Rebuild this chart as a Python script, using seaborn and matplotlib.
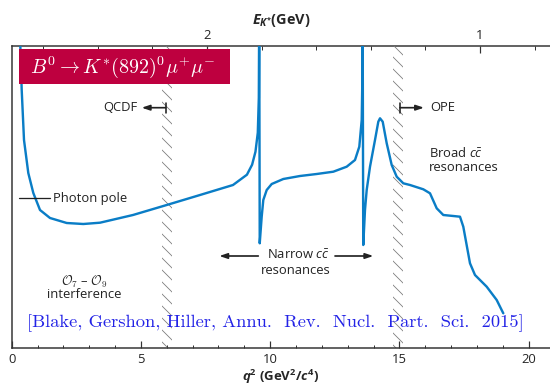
import numpy as np
import pandas as pd
import matplotlib
matplotlib.use("Agg")
import matplotlib.pyplot as plt
from matplotlib.patches import Rectangle
from matplotlib.ticker import FixedLocator, MultipleLocator
import seaborn as sns

# ---------------- data ----------------
q2 = [0.30, 0.387, 0.476, 0.642, 0.836, 1.095, 1.482, 2.128, 2.770, 3.416,
      4.692, 5.996, 7.284, 8.561, 9.10, 9.30, 9.43, 9.52, 9.56, 9.575,
      9.595, 9.671, 9.733, 9.865, 10.058, 10.507, 11.153, 11.799, 12.441, 12.959,
      13.280, 13.447, 13.540, 13.56, 13.575, 13.600, 13.667, 13.733, 13.861, 14.054,
      14.182, 14.248, 14.352, 14.507, 14.700, 14.894, 15.149, 15.408, 15.923, 16.182,
      16.441, 16.696, 17.083, 17.342, 17.470, 17.729, 17.922, 18.375, 18.762, 19.017]
rate = [330, 257.7, 207.7, 174.7, 154.7, 137.7, 129.7, 124.7, 123.7, 125.0,
        132.7, 142.7, 152.7, 162.7, 173, 183, 196, 215, 250, 340,
        104.4, 131.0, 147.7, 157.7, 163.7, 168.7, 171.7, 173.7, 176.0, 181.0,
        187.7, 201.0, 227.7, 260, 340, 102.7, 137.7, 157.7, 181.0, 207.7,
        226.0, 229.4, 226.0, 204.4, 182.7, 171.0, 164.4, 162.7, 158.4, 154.4,
        139.4, 132.7, 131.7, 131.0, 121.0, 84.4, 72.7, 61.0, 47.7, 34.4]

bands = [(5.8, 6.2), (14.75, 15.15)]
q2_ticks = [0, 5, 10, 15, 20]
E_major = [2, 1]
E_minor = [2.6, 2.4, 2.2, 1.8, 1.6, 1.4, 1.2, 0.8]
mB, mK = 5.28, 0.892

df = pd.DataFrame({"q2": q2, "rate": rate})

# ---------------- style ----------------
sns.set_style("ticks")
plt.rcParams["font.family"] = ["Open Sans", "DejaVu Sans"]
plt.rcParams["mathtext.fontset"] = "custom"
plt.rcParams["mathtext.rm"] = "Open Sans"
plt.rcParams["mathtext.it"] = "Open Sans:italic"
plt.rcParams["mathtext.bf"] = "Open Sans:bold"
plt.rcParams["mathtext.bfit"] = "Open Sans:italic:bold"
plt.rcParams["hatch.linewidth"] = 0.8
plt.rcParams["axes.unicode_minus"] = False

W, H = 550, 389
fig = plt.figure(figsize=(W / 72, H / 72), dpi=72)
x0, x1 = 11.7, 550.0
ytop, ybot = 46.0, 347.7
ax = fig.add_axes([x0 / W, 1 - ybot / H, (x1 - x0) / W, (ybot - ytop) / H])

spine_c = "#333333"
sns.lineplot(data=df, x="q2", y="rate", ax=ax, sort=False, estimator=None,
             color="#0A7DC6", linewidth=2.4)

xmax = (x1 - x0) / 25.85
ax.set_xlim(0, xmax)
ax.set_ylim(0, ybot - ytop)

for lo, hi in bands:
    ax.axvspan(lo, hi, facecolor="none", edgecolor="#7a7a7a", linewidth=0,
               hatch="\\\\")

ax.spines["right"].set_visible(False)
ax.spines["top"].set_visible(False)
for s in ("left", "bottom"):
    ax.spines[s].set_color(spine_c)
    ax.spines[s].set_linewidth(1.5)
ax.set_yticks([])
ax.set_xticks(q2_ticks)
ax.xaxis.set_minor_locator(MultipleLocator(1))
ax.tick_params(axis="x", which="major", direction="in", length=7, width=1.2,
               color=spine_c, labelsize=13, pad=5)
ax.tick_params(axis="x", which="minor", direction="in", length=3.5, width=1.0,
               color=spine_c)
ax.set_xlabel(r"$\mathbfit{q}^{\mathbf{2}}$ (GeV$^{\mathbf{2}}$/$\mathbfit{c}^{\mathbf{4}}$)",
              fontsize=13.3, fontweight="bold", labelpad=2)
ax.set_ylabel("")


def q2E(q):
    return (mB**2 + mK**2 - np.asarray(q, dtype=float)) / (2 * mB)


def E2q(E):
    return mB**2 + mK**2 - 2 * mB * np.asarray(E, dtype=float)


sec = ax.secondary_xaxis("top", functions=(q2E, E2q))
sec.set_xticks(E_major)
sec.set_xticklabels(["2", "1"])
sec.xaxis.set_minor_locator(FixedLocator(E_minor))
sec.spines["top"].set_color(spine_c)
sec.spines["top"].set_linewidth(1.5)
sec.tick_params(axis="x", which="major", direction="in", length=7, width=1.2,
                color=spine_c, labelsize=13, pad=4)
sec.tick_params(axis="x", which="minor", direction="in", length=3.5, width=1.0,
                color=spine_c)
sec.set_xlabel(r"$\mathbfit{E}_{\mathbfit{K}^{\mathbf{*}}}$(GeV)", fontsize=14.5,
               fontweight="bold", labelpad=5)

# ---------------- annotations ----------------
def px2q(px):
    return (px - x0) / 25.85


def py2v(py):
    return ybot - py


ax.add_patch(Rectangle((px2q(19), py2v(84.3)), px2q(230) - px2q(19), 35,
                       facecolor="#BE003F", edgecolor="none", zorder=5))
ax.text(px2q(123), py2v(67.5), r"$B^0 \rightarrow K^{*}(892)^0\mu^{+}\mu^{-}$",
        color="white", fontsize=20, math_fontfamily="cm", ha="center", va="center",
        zorder=6)

tc = "#222222"
fs = 13
ac = dict(arrowstyle="-|>,head_length=0.65,head_width=0.22", color=tc, lw=1.7,
          shrinkA=0, shrinkB=0)
# QCDF
yq = py2v(107.7)
ax.annotate("", xy=(px2q(141.7), yq), xytext=(px2q(165.7), yq), arrowprops=ac)
ax.plot([px2q(165.7)] * 2, [yq - 5, yq + 5], color=tc, lw=1.6)
ax.text(px2q(137.5), yq, "QCDF", fontsize=fs, ha="right", va="center", color=tc)
# OPE
ax.annotate("", xy=(px2q(424), yq), xytext=(px2q(400), yq), arrowprops=ac)
ax.plot([px2q(400)] * 2, [yq - 5, yq + 5], color=tc, lw=1.6)
ax.text(px2q(430), yq, "OPE", fontsize=fs, ha="left", va="center", color=tc)
# Photon pole
yp = py2v(198.3)
ax.plot([px2q(19), px2q(50)], [yp, yp], color=tc, lw=1.3)
ax.text(px2q(53), yp, "Photon pole", fontsize=fs, ha="left", va="center", color=tc)
# Narrow cc resonances
yn = py2v(256)
ax.annotate("", xy=(px2q(219.3), yn), xytext=(px2q(258.3), yn), arrowprops=ac)
ax.annotate("", xy=(px2q(373.3), yn), xytext=(px2q(335), yn), arrowprops=ac)
ax.text(px2q(298), py2v(255), r"Narrow $c\bar{c}$", fontsize=fs, ha="center",
        va="center", color=tc)
ax.text(px2q(296), py2v(270.5), "resonances", fontsize=fs, ha="center",
        va="center", color=tc)
# Broad cc resonances
ax.text(px2q(429), py2v(153), r"Broad $c\bar{c}$", fontsize=fs, ha="left",
        va="center", color=tc)
ax.text(px2q(429), py2v(168), "resonances", fontsize=fs, ha="left",
        va="center", color=tc)
# O7 - O9 interference
ax.text(px2q(84), py2v(281.5), r"$\mathcal{O}_7$ – $\mathcal{O}_9$", fontsize=fs,
        math_fontfamily="cm", ha="center", va="center", color=tc)
ax.text(px2q(84), py2v(295), "interference", fontsize=fs, ha="center",
        va="center", color=tc)
# citation
ax.text(px2q(275.5), py2v(322.7),
        "[Blake, Gershon, Hiller, Annu.  Rev.  Nucl.  Part.  Sci.  2015]",
        fontfamily="cmr10", fontsize=18.5, color="#2323E6", ha="center", va="center")

fig.savefig("out.png", dpi=72)
